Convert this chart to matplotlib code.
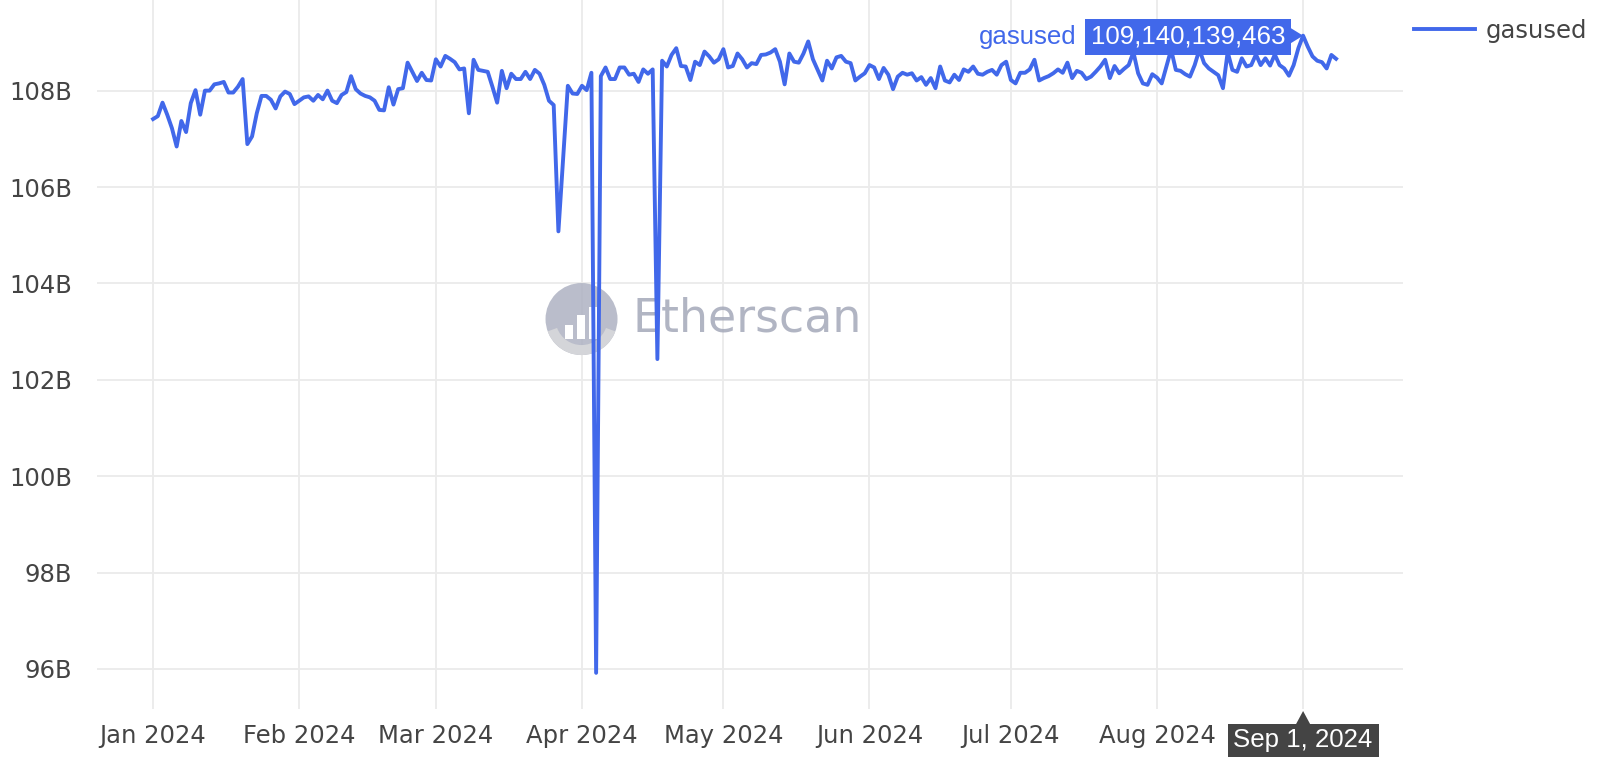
import matplotlib
matplotlib.use("Agg")
import matplotlib.pyplot as plt
import matplotlib.dates as mdates
import matplotlib.transforms as mtransforms
from matplotlib.patches import Circle, Polygon, Rectangle, Wedge
import pandas as pd

START_DATE = "2024-01-01"

# daily gas used, in billions (Jan 1 .. Sep 8, 2024)
gas_used_b = [
    107.41, 107.47, 107.75, 107.50, 107.22, 106.84, 107.37, 107.14, 107.74, 108.01,
    107.50, 108.00, 108.00, 108.13, 108.15, 108.18, 107.96, 107.96, 108.08, 108.24,
    106.89, 107.05, 107.53, 107.89, 107.89, 107.81, 107.63, 107.88, 107.98, 107.93,
    107.72, 107.79, 107.86, 107.88, 107.79, 107.91, 107.82, 108.00, 107.79, 107.74,
    107.91, 107.97, 108.30, 108.03, 107.94, 107.89, 107.86, 107.79, 107.60, 107.59,
    108.07, 107.71, 108.03, 108.05, 108.58, 108.39, 108.20, 108.37, 108.22, 108.21,
    108.65, 108.50, 108.72, 108.66, 108.59, 108.44, 108.46, 107.53, 108.64, 108.43,
    108.41, 108.39, 108.08, 107.75, 108.41, 108.05, 108.35, 108.24, 108.24, 108.39,
    108.24, 108.43, 108.35, 108.12, 107.79, 107.70, 105.08, 106.60, 108.10, 107.94,
    107.93, 108.10, 108.01, 108.37, 95.92, 108.30, 108.48, 108.24, 108.24, 108.48,
    108.48, 108.33, 108.35, 108.18, 108.44, 108.35, 108.44, 102.43, 108.62, 108.50,
    108.74, 108.88, 108.51, 108.50, 108.22, 108.60, 108.53, 108.81, 108.71, 108.58,
    108.65, 108.86, 108.48, 108.51, 108.77, 108.65, 108.48, 108.57, 108.55, 108.74,
    108.75, 108.79, 108.86, 108.60, 108.13, 108.77, 108.60, 108.58, 108.77, 109.02,
    108.65, 108.43, 108.21, 108.62, 108.46, 108.69, 108.72, 108.60, 108.57, 108.21,
    108.29, 108.36, 108.53, 108.48, 108.24, 108.47, 108.33, 108.03, 108.29, 108.37,
    108.33, 108.36, 108.21, 108.28, 108.12, 108.26, 108.05, 108.50, 108.21, 108.17,
    108.33, 108.22, 108.44, 108.39, 108.50, 108.35, 108.33, 108.39, 108.43, 108.33,
    108.53, 108.60, 108.22, 108.15, 108.37, 108.37, 108.44, 108.64, 108.21, 108.26,
    108.30, 108.36, 108.44, 108.37, 108.58, 108.26, 108.41, 108.37, 108.24, 108.29,
    108.39, 108.50, 108.64, 108.26, 108.51, 108.36, 108.45, 108.53, 108.80, 108.36,
    108.15, 108.12, 108.34, 108.27, 108.15, 108.50, 108.85, 108.43, 108.41, 108.34,
    108.29, 108.53, 108.85, 108.57, 108.46, 108.39, 108.32, 108.05, 108.80, 108.43,
    108.39, 108.67, 108.50, 108.53, 108.75, 108.53, 108.67, 108.52, 108.75, 108.53,
    108.46, 108.31, 108.53, 108.88, 109.140139463, 108.91, 108.71, 108.62, 108.59, 108.46,
    108.74, 108.66,
]

y_ticks = [96, 98, 100, 102, 104, 106, 108]
x_tick_months = ["2024-01-01", "2024-02-01", "2024-03-01", "2024-04-01", "2024-05-01",
                 "2024-06-01", "2024-07-01", "2024-08-01", "2024-09-01"]
x_tick_labels = ["Jan 2024", "Feb 2024", "Mar 2024", "Apr 2024", "May 2024",
                 "Jun 2024", "Jul 2024", "Aug 2024", ""]

hover_date = "2024-09-01"
hover_value = 109140139463
hover_date_label = "Sep 1, 2024"

LINE_BLUE = "#4168ea"
GRID = "#ebebeb"
TEXT = "#444444"
FS = 17.5
HOVER_FS = 18.6
HOVER_FONT = ["Liberation Sans", "DejaVu Sans"]

dates = pd.date_range(START_DATE, periods=len(gas_used_b), freq="D")

fig = plt.figure(figsize=(16, 7.76), dpi=100)
ax = fig.add_axes([97 / 1600, 1 - 709 / 776, 1306 / 1600, 709 / 776])

ax.plot(dates, gas_used_b, color=LINE_BLUE, lw=2.8, solid_joinstyle="round",
        label="gasused", zorder=3)

start = pd.Timestamp(START_DATE)
ax.set_xlim(mdates.date2num(start) - 11.9, mdates.date2num(start) + 265.2)
ax.set_ylim(95.17, 109.88)

ax.set_yticks(y_ticks)
ax.set_yticklabels([f"{t}B" for t in y_ticks])
ax.set_xticks(pd.to_datetime(x_tick_months))
ax.set_xticklabels(x_tick_labels)
ax.tick_params(axis="y", length=0, pad=18, labelsize=FS, labelcolor=TEXT)
ax.tick_params(axis="x", length=0, pad=11, labelsize=FS, labelcolor=TEXT)
ax.grid(True, color=GRID, lw=1.3)
ax.set_axisbelow(True)
for sp in ax.spines.values():
    sp.set_visible(False)

# watermark
wm = fig.dpi_scale_trans + mtransforms.ScaledTranslation(0.371, 0.55, ax.transAxes)
ax.add_patch(Circle((0, 0), 0.36, transform=wm, color="#aeb2c2", alpha=0.85,
                    lw=0, zorder=1))
ax.add_patch(Wedge((0, 0), 0.36, 200, 340, width=0.1, transform=wm, color="#d4d5d9",
                   lw=0, zorder=1))
for bx, bh in [(-0.17, 0.14), (-0.05, 0.24), (0.07, 0.32)]:
    ax.add_patch(Rectangle((bx, -0.2), 0.08, bh, transform=wm, color="white",
                           lw=0, zorder=1))
ax.text(0.4104, 0.55, "Etherscan", transform=ax.transAxes, fontsize=33,
        color="#a4a8b9", alpha=0.85, va="center", ha="left", zorder=1)

# legend
fig.legend(loc="center left", bbox_to_anchor=(1392 / 1600, 1 - 31 / 776),
           frameon=False, fontsize=FS, handlelength=2.5, handletextpad=0.45,
           borderpad=0.4, labelcolor=TEXT)

# hover label on the data point
hx = mdates.date2num(pd.Timestamp(hover_date))
hy = hover_value / 1e9
pt = fig.dpi_scale_trans + mtransforms.ScaledTranslation(hx, hy, ax.transData)
ax.add_patch(Polygon([(0, 0), (-0.13, 0.08), (-0.13, -0.08)], closed=True,
                     transform=pt, color=LINE_BLUE, lw=0, zorder=5, clip_on=False))
ax.add_patch(Rectangle((-2.18, -0.19), 2.06, 0.36, transform=pt, color=LINE_BLUE,
                       lw=0, zorder=5, clip_on=False))
ax.text(-1.15, -0.01, f"{hover_value:,}", transform=pt, color="white", fontsize=HOVER_FS,
        family=HOVER_FONT, ha="center", va="center", zorder=6)
ax.text(-2.27, -0.01, "gasused", transform=pt, color=LINE_BLUE, fontsize=HOVER_FS,
        family=HOVER_FONT, ha="right", va="center", zorder=6)

# hover label on the x axis
xt = fig.dpi_scale_trans + mtransforms.ScaledTranslation(
    hx, 0, mtransforms.blended_transform_factory(ax.transData, ax.transAxes))
ax.add_patch(Polygon([(0, -0.02), (-0.07, -0.15), (0.07, -0.15)], closed=True,
                     transform=xt, color=TEXT, lw=0, zorder=5, clip_on=False))
ax.add_patch(Rectangle((-0.755, -0.48), 1.51, 0.335, transform=xt, color=TEXT,
                       lw=0, zorder=5, clip_on=False))
ax.text(0, -0.315, hover_date_label, transform=xt, color="white", fontsize=HOVER_FS,
        family=HOVER_FONT, ha="center", va="center", zorder=6)

fig.savefig("out.png", dpi=100, facecolor="white")
